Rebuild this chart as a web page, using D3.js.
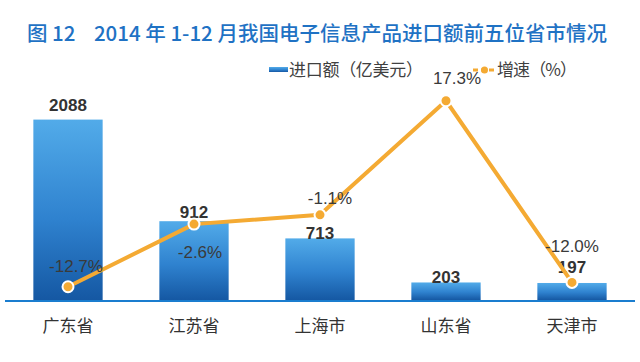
<!DOCTYPE html>
<html>
<head>
<meta charset="utf-8">
<script src="https://cdn.jsdelivr.net/npm/d3@7"></script>
<style>
  body { margin: 0; background: #fff; }
  svg { display: block; font-family: "Liberation Sans", "Noto Sans CJK SC", sans-serif; }
  .cjk { font-family: "Noto Sans CJK SC", sans-serif; }
</style>
</head>
<body>
<div id="holder"></div>
<script>
// data
var provinces = ["广东省", "江苏省", "上海市", "山东省", "天津市"];
var importValues = [2088, 912, 713, 203, 197];     // 亿美元
var growthRates = [-12.7, -2.6, -1.1, 17.3, -12.0]; // %
var titleText = "图 12\u00a0\u00a0\u00a0\u00a02014 年 1-12 月我国电子信息产品进口额前五位省市情况";
var legendBar = "进口额（亿美元）";
var legendLine = "增速（%）";

var WIDTH = 640, HEIGHT = 362;
var svg = d3.select("#holder").append("svg")
    .attr("width", WIDTH)
    .attr("height", HEIGHT);

var x = d3.scaleBand()
    .domain(provinces)
    .range([5, 635])
    .paddingInner(0.45)
    .paddingOuter(0.225);

var y = d3.scaleLinear().domain([0, 2500]).range([300, 84]);
var y2 = d3.scaleLinear().domain([-15, 20]).range([301, 84]);

var defs = svg.append("defs");
var grad = defs.append("linearGradient")
    .attr("id", "barGrad")
    .attr("x1", 0).attr("y1", 0).attr("x2", 0).attr("y2", 1);
grad.append("stop").attr("offset", "0%").attr("stop-color", "#52abe9");
grad.append("stop").attr("offset", "55%").attr("stop-color", "#2f82cf");
grad.append("stop").attr("offset", "100%").attr("stop-color", "#1558a3");

// title
svg.append("text")
    .attr("class", "cjk")
    .attr("x", 27)
    .attr("y", 41)
    .attr("fill", "#1f72c4")
    .attr("font-size", 20.5)
    .attr("font-weight", 500)
    .text(titleText);

// legend
var lg = svg.append("g").attr("class", "cjk");
lg.append("rect")
    .attr("x", 269).attr("y", 67).attr("width", 19).attr("height", 5)
    .attr("fill", "url(#barGrad)");
lg.append("text")
    .attr("x", 289).attr("y", 76)
    .attr("font-size", 17).attr("fill", "#404040")
    .attr("textLength", 134)
    .text(legendBar);
lg.append("line")
    .attr("x1", 473).attr("x2", 496).attr("y1", 70).attr("y2", 70)
    .attr("stroke", "#f4aa33").attr("stroke-width", 3)
    .attr("stroke-dasharray", "5,3");
lg.append("circle")
    .attr("cx", 484.5).attr("cy", 70).attr("r", 3.5)
    .attr("fill", "#f4aa33");
lg.append("text")
    .attr("x", 497).attr("y", 76)
    .attr("font-size", 17).attr("fill", "#404040")
    .attr("textLength", 80)
    .text(legendLine);

// bars
svg.selectAll(".bar")
    .data(importValues)
    .enter().append("rect")
    .attr("class", "bar")
    .attr("x", function(d, i) { return x(provinces[i]); })
    .attr("y", function(d) { return y(d); })
    .attr("width", x.bandwidth())
    .attr("height", function(d) { return y(0) - y(d); })
    .attr("fill", "url(#barGrad)");

// axis line
svg.append("line")
    .attr("x1", 5).attr("x2", 635)
    .attr("y1", y(0) + 1).attr("y2", y(0) + 1)
    .attr("stroke", "#1a7dcf").attr("stroke-width", 2);

// category labels
var xAxis = svg.append("g")
    .attr("transform", "translate(0," + (y(0) + 1) + ")")
    .call(d3.axisBottom(x).tickSize(0).tickPadding(19));
xAxis.select(".domain").remove();
xAxis.selectAll("text")
    .attr("class", "cjk")
    .attr("font-size", 17)
    .attr("fill", "#333");

// bar value labels (vertical offset from bar top, as placed in the original)
var barLabelDy = [-15, -9, -5, -5, -16];
svg.selectAll(".barLabel")
    .data(importValues)
    .enter().append("text")
    .attr("class", "barLabel")
    .attr("x", function(d, i) { return x(provinces[i]) + x.bandwidth() / 2; })
    .attr("y", function(d, i) { return y(d) + barLabelDy[i]; })
    .attr("dy", "0.35em")
    .attr("text-anchor", "middle")
    .attr("font-size", 17)
    .attr("font-weight", "bold")
    .attr("fill", "#333")
    .text(function(d) { return d; });

// growth line
var cx = function(d, i) { return x(provinces[i]) + x.bandwidth() / 2; };
var valueline = d3.line()
    .x(cx)
    .y(function(d) { return y2(d); });

svg.append("path")
    .datum(growthRates)
    .attr("fill", "none")
    .attr("stroke", "#f4aa33")
    .attr("stroke-width", 4)
    .attr("stroke-linejoin", "round")
    .attr("d", valueline);

svg.selectAll(".dot")
    .data(growthRates)
    .enter().append("circle")
    .attr("class", "dot")
    .attr("cx", cx)
    .attr("cy", function(d) { return y2(d); })
    .attr("r", 5.5)
    .attr("fill", "#f4aa33")
    .attr("stroke", "#fff")
    .attr("stroke-width", 2);

// growth labels (offsets per point, as placed in the original)
var labelOffsets = [[8, -15], [6, 34], [10, -11], [11, -17], [0, -30]];
svg.selectAll(".rateLabel")
    .data(growthRates)
    .enter().append("text")
    .attr("class", "rateLabel")
    .attr("x", function(d, i) { return cx(d, i) + labelOffsets[i][0]; })
    .attr("y", function(d, i) { return y2(d) + labelOffsets[i][1]; })
    .attr("text-anchor", "middle")
    .attr("font-size", 17)
    .attr("fill", "#3a3a3a")
    .text(function(d) { return d.toFixed(1) + "%"; });
</script>
</body>
</html>
